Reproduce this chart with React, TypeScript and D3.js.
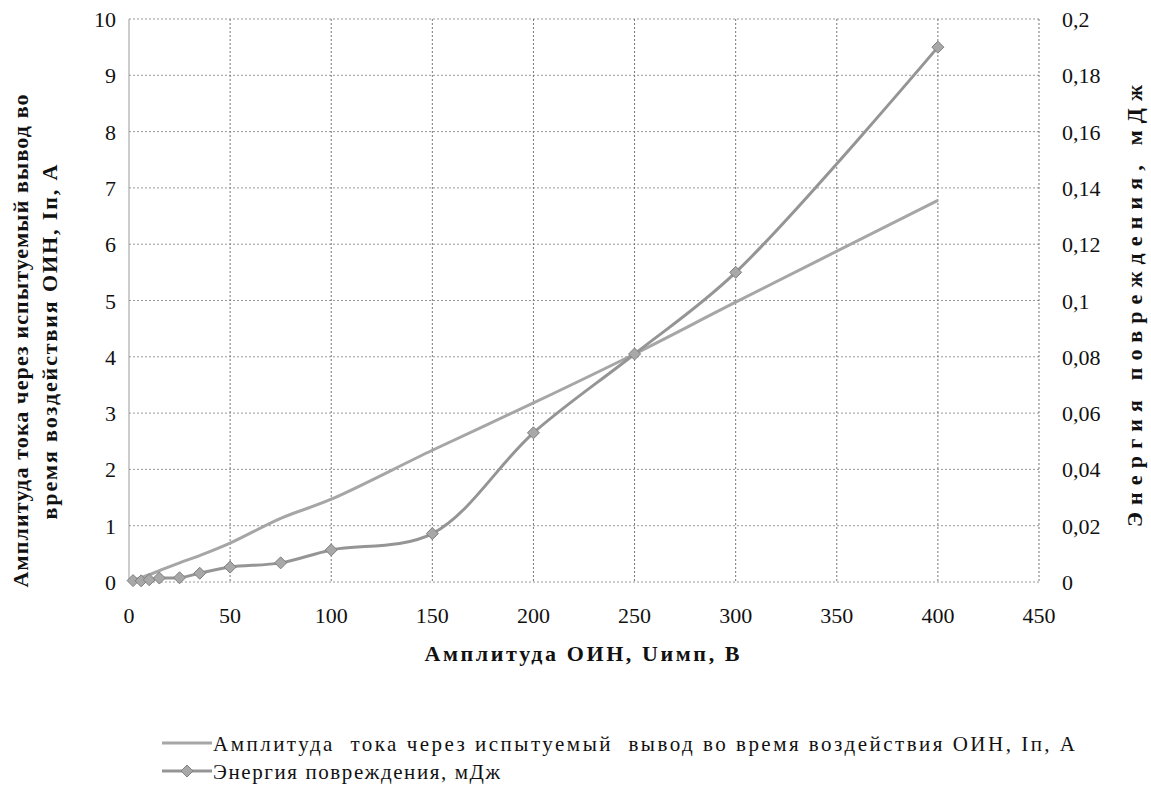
import React from "react";
import * as d3 from "d3";

const xValues = [2, 6, 10, 15, 25, 35, 50, 75, 100, 150, 200, 250, 300, 400];
const currentA = [0.03, 0.08, 0.13, 0.2, 0.34, 0.47, 0.69, 1.13, 1.47, 2.34, 3.18, 4.05, 4.97, 6.78];
const energyMJ = [0.0005, 0.0004, 0.0008, 0.0014, 0.0015, 0.0031, 0.0053, 0.0068, 0.0114, 0.0172, 0.053, 0.081, 0.11, 0.19];

const xTicks = [0, 50, 100, 150, 200, 250, 300, 350, 400, 450];
const yLeftTicks = [0, 1, 2, 3, 4, 5, 6, 7, 8, 9, 10];
const yRightTicks = [0, 0.02, 0.04, 0.06, 0.08, 0.1, 0.12, 0.14, 0.16, 0.18, 0.2];

const seriesNames = [
  "Амплитуда  тока через испытуемый  вывод во время воздействия ОИН, Iп, А",
  "Энергия повреждения, мДж",
];
const xTitle = "Амплитуда ОИН, Uимп, В";
const yLeftTitle = ["Амплитуда тока через испытуемый вывод во", "время воздействия ОИН, Iп, А"];
const yRightTitle = "Энергия повреждения, мДж";

const W = 1151;
const H = 785;
const M = { left: 129, right: 1039, top: 19, bottom: 582 };
const FONT = '"Liberation Serif", "Times New Roman", Times, Tinos, monospace';

export default function App() {
  const x = d3.scaleLinear().domain([0, 450]).range([M.left, M.right]);
  const yL = d3.scaleLinear().domain([0, 10]).range([M.bottom, M.top]);
  const yR = d3.scaleLinear().domain([0, 0.2]).range([M.bottom, M.top]);

  const curve = d3.curveCatmullRom.alpha(0.5);
  const line1 = d3
    .line<number>()
    .x((_, i) => x(xValues[i]))
    .y((d) => yL(d))
    .curve(curve);
  const line2 = d3
    .line<number>()
    .x((_, i) => x(xValues[i]))
    .y((d) => yR(d))
    .curve(curve);

  const color1 = "#a6a6a6";
  const color2 = "#959595";
  const diamond = (cx: number, cy: number, r = 6) =>
    `M${cx},${cy - r}L${cx + r},${cy}L${cx},${cy + r}L${cx - r},${cy}Z`;

  const fmtR = (v: number) => String(+v.toFixed(2)).replace(".", ",");

  const legendY = [751, 779];
  const legendLen = [862, 287];
  const legendX = 162;
  const fs = { fontFamily: FONT };

  return (
    <div style={{ position: "absolute", left: 0, top: 0, fontFamily: FONT }}>
      <svg width={W} height={H} style={{ display: "block", background: "#fff", fontFamily: FONT }}>
        <style>{`svg text { font-family: "Liberation Serif", "Times New Roman", Times, Tinos, monospace; }`}</style>
        <rect x={0} y={0} width={W} height={H} fill="#fff" />
        {yLeftTicks.map((t) => (
          <line
            key={"h" + t}
            x1={M.left}
            x2={M.right}
            y1={yL(t)}
            y2={yL(t)}
            stroke="#999"
            strokeWidth={1}
            strokeDasharray="2,2"
          />
        ))}
        {xTicks.slice(1).map((t) => (
          <line
            key={"v" + t}
            x1={x(t)}
            x2={x(t)}
            y1={M.top}
            y2={M.bottom}
            stroke="#777"
            strokeWidth={1}
            strokeDasharray="2,2"
          />
        ))}
        <line x1={M.left} x2={M.left} y1={M.top} y2={M.bottom} stroke="#999" strokeWidth={1} />

        {xTicks.map((t) => (
          <text key={"xt" + t} x={x(t)} y={623} textAnchor="middle" fontSize={22} style={fs} fill="#111">
            {t}
          </text>
        ))}
        {yLeftTicks.map((t) => (
          <text key={"yl" + t} x={116} y={yL(t) + 8} textAnchor="end" fontSize={22} style={fs} fill="#111">
            {t}
          </text>
        ))}
        {yRightTicks.map((t) => (
          <text key={"yr" + t} x={1062} y={yR(t) + 8} textAnchor="start" fontSize={22} style={fs} fill="#111">
            {fmtR(t)}
          </text>
        ))}

        <text
          x={582}
          y={661}
          textAnchor="middle"
          fontSize={22}
          fontWeight="bold"
          fill="#111"
          style={fs}
          textLength={315}
          lengthAdjust="spacing"
        >
          {xTitle}
        </text>
        <text
          transform={`translate(28,341) rotate(-90)`}
          textAnchor="middle"
          fontSize={22}
          fontWeight="bold"
          fill="#111"
          style={fs}
          textLength={493}
          lengthAdjust="spacing"
        >
          {yLeftTitle[0]}
        </text>
        <text
          transform={`translate(57,342) rotate(-90)`}
          textAnchor="middle"
          fontSize={22}
          fontWeight="bold"
          fill="#111"
          style={fs}
          textLength={355}
          lengthAdjust="spacing"
        >
          {yLeftTitle[1]}
        </text>
        <text
          transform={`translate(1142,306) rotate(-90)`}
          textAnchor="middle"
          fontSize={22}
          fontWeight="bold"
          fill="#111"
          style={fs}
          textLength={442}
          lengthAdjust="spacing"
        >
          {yRightTitle}
        </text>

        <path d={line1(currentA) || ""} fill="none" stroke={color1} strokeWidth={3} />
        <path d={line2(energyMJ) || ""} fill="none" stroke={color2} strokeWidth={3} />
        {energyMJ.map((v, i) => (
          <path key={"m" + i} d={diamond(x(xValues[i]), yR(v))} fill="#a8a8a8" stroke="#808080" strokeWidth={1} />
        ))}

        {seriesNames.map((name, i) => (
          <g key={"lg" + i}>
            <line
              x1={legendX}
              x2={legendX + 50}
              y1={legendY[i] - 8}
              y2={legendY[i] - 8}
              stroke={i === 0 ? color1 : color2}
              strokeWidth={3}
            />
            {i === 1 && (
              <path d={diamond(legendX + 25, legendY[i] - 8)} fill="#a8a8a8" stroke="#808080" strokeWidth={1} />
            )}
            <text
              x={legendX + 51}
              y={legendY[i]}
              fontSize={21}
              fill="#111"
              style={{ ...fs, whiteSpace: "pre" }}
              textLength={legendLen[i]}
              lengthAdjust="spacing"
            >
              {name}
            </text>
          </g>
        ))}
      </svg>
    </div>
  );
}
